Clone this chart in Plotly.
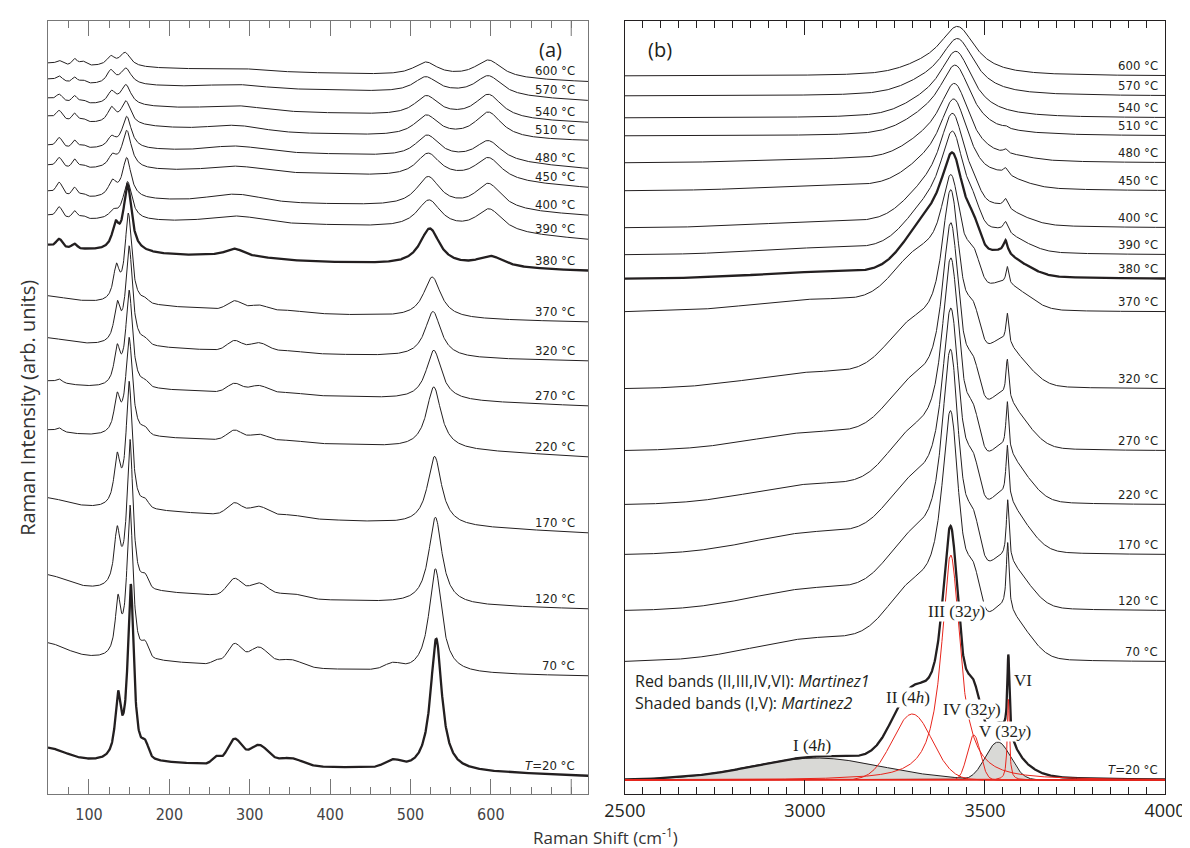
import numpy as np
import plotly.graph_objects as go

# ---------------- data ----------------
temps = ["600 °C", "570 °C", "540 °C", "510 °C", "480 °C", "450 °C", "400 °C", "390 °C", "380 °C",
         "370 °C", "320 °C", "270 °C", "220 °C", "170 °C", "120 °C", "70 °C", "<i>T</i>=20 °C"]
thick_idx = [8, 16]

# panel (a): 50-720 cm-1 ; baseline levels (px-like units above axis)
a_left = [730, 711, 692, 674, 646, 626, 597, 575, 547, 495, 452, 409, 360, 289, 208, 139, 34]
a_mid = [721, 704, 681, 660, 640, 620, 590, 569, 532, 480, 440, 398, 350, 274, 194, 125, 27]
a_right = [713, 694, 672, 654, 626, 607, 579, 555, 524, 473, 434, 389, 338, 262, 186, 119, 19]
a_edge = [2, 5, 5, 5, 4, 4, 7, 5, 3, 4, 5, 5, 5, 8, 12, 13, 13]
a_f63 = [3, 4, 5, 7, 8, 8, 10, 9, 7, 0, 0, 3, 3, 0, 0, 0, 0]
a_f82 = [6, 5, 6, 7, 7, 8, 8, 7, 4, 0, 0, 0, 0, 0, 0, 0, 0]
a_f92 = [4, 3, 3, 3, 3, 3, 3, 3, 0, 0, 0, 0, 0, 0, 0, 0, 0]
a_sh_pos = [127, 127, 128, 128, 128, 129, 129, 130, 133, 134, 135, 135, 135, 135, 135, 136, 136]
a_sh_amp = [9, 13, 12, 15, 10, 11, 15, 7, 22, 32, 36, 35, 35, 47, 54, 53, 59]
a_sh_wid = [6, 6, 6, 6, 6, 6, 6, 6, 5, 4.5, 4.5, 4.5, 4.5, 4.5, 4.5, 4, 4]
a_mn_pos = [145, 146, 146, 146, 147, 147, 147, 148, 148, 149, 150, 150, 150, 150, 151, 151, 152]
a_mn_amp = [14, 16, 20, 23, 32, 38, 40, 38, 66, 89, 98, 96, 97, 125, 148, 152, 175]
a_mn_wid = [8, 8, 7.5, 7, 7, 7, 6.5, 6.5, 6, 5, 5, 5, 5, 4.5, 4.5, 4.5, 4.5]
a_f170 = [0, 0, 0, 0, 0, 0, 0, 0, 0, 3, 4, 4, 5, 6, 10, 12, 12]
a_f258 = [0, 0, 0, 0, 0, 0, 0, 0, 0, 0, 0, 0, 0, 0, 0, 4, 7]
a_f280 = [0, 0, 0, 0, 0, 0, 0, 0, 5, 9, 10, 9, 10, 12, 17, 21, 25]
a_f310 = [0, 0, 0, 0, 0, 0, 0, 0, 0, 6, 9, 8, 7, 10, 14, 19, 20]
a_f350 = [0, 0, 0, 0, 0, 0, 0, 0, 0, 2, 2, 2, 2, 3, 5, 8, 8]
a_f478 = [0, 0, 0, 0, 0, 0, 0, 0, 0, 0, 0, 0, 0, 0, 0, 6, 7]
a_hump = [2, 3, 4, 5, 5, 5, 7, 6, 4, 0, 0, 0, 0, 0, 0, 0, 0]
a_p53_pos = [519, 519, 520, 520, 521, 522, 522, 523, 524, 527, 528, 529, 529, 530, 531, 531, 532]
a_p53_amp = [13.5, 16, 20, 21, 22.5, 24, 30, 28.5, 37, 41, 46, 50, 62, 69, 87, 104, 132]
a_p53_wid = [18, 18, 18, 18, 18, 18, 18, 18, 15, 13, 12, 11.5, 11, 10.5, 10, 9.5, 8.5]
a_p60_pos = [597, 597, 597, 597, 597, 597, 597, 598, 600, 600, 600, 600, 600, 600, 600, 600, 600]
a_p60_amp = [18, 20, 24, 26, 20.5, 23, 26, 23, 11, 0, 0, 0, 0, 0, 0, 0, 0]
a_ticks = [100, 200, 300, 400, 500, 600]

# panel (b): 2500-4000 cm-1
b_base = [717, 697, 675, 657, 630, 602, 565, 538, 514, 481, 404, 342, 288, 238, 182, 131, 13]
b_I = [0, 0, 0, 0, 3, 4, 5, 6, 6, 12, 16, 18, 20, 22, 22, 23, 22]
b_II_pos = [3340, 3340, 3340, 3340, 3340, 3340, 3340, 3340, 3340, 3315, 3305, 3305, 3305, 3305, 3305, 3305, 3298]
b_II_wid = [65, 65, 65, 65, 65, 65, 65, 65, 65, 70, 75, 75, 75, 75, 75, 75, 55]
b_II = [6, 8, 10, 12, 14, 16, 25, 32, 42, 45, 50, 52, 53, 54, 55, 56, 66]
b_III_pos = [3425, 3425, 3421, 3419, 3417, 3415, 3412, 3412, 3412, 3407, 3406, 3406, 3406, 3406, 3405, 3405, 3405]
b_III = [47, 54, 62, 65, 72, 83, 100, 105, 102, 116, 176, 204, 222, 221, 235, 224, 240]
b_III_wid = [60, 58, 56, 54, 52, 50, 46, 44, 42, 36, 33, 32, 32, 32, 31, 31, 31]
b_IV = [0, 0, 0, 0, 0, 2, 10, 16, 20, 28, 38, 40, 42, 43, 44, 44, 45]
b_V = [0, 0, 0, 0, 0, 6, 8, 10, 12, 13, 26, 31, 31, 33, 26, 27, 38]
b_VI_pos = [3557, 3557, 3557, 3557, 3557, 3557, 3557, 3557, 3557, 3562, 3562, 3562, 3562, 3562, 3563, 3563, 3565]
b_VI = [0, 0, 0, 2, 4, 6, 9, 10, 13, 17, 30, 39, 49, 53, 60, 67, 81]
b_VI_wid = [7, 7, 7, 7, 7, 7, 7, 7, 7, 4.5, 4.5, 4.5, 4.5, 4.5, 4.5, 4.5, 3.5]
b_tail = [0, 0, 0, 0, 2, 4, 6, 8, 10, 15, 22, 25, 26, 27, 27, 28, 10]
b_ticks = [2500, 3000, 3500, 4000]

# fitted component bands of the T=20 °C spectrum (I..VI)
fit_names = ["I", "II", "III", "IV", "V", "VI"]
fit_amp = [22, 66, 225, 45, 38, 81]
fit_pos = [3030, 3298, 3405, 3469, 3536, 3565]
fit_wid = [185, 55, 31, 18, 35, 3.5]
fit_shaded = [True, False, False, False, True, False]

band_labels = ["I (4<i>h</i>)", "II (4<i>h</i>)", "III (32<i>y</i>)", "IV (32<i>y</i>)", "V (32<i>y</i>)", "VI"]
band_label_x = [3019, 3287, 3420, 3464, 3555, 3605]
band_label_y = [48, 96, 182, 84, 62, 113]


# ---------------- helpers ----------------
def lor(x, c, a, w):
    return a / (1.0 + ((x - c) / w) ** 2)


def gau(x, c, a, s):
    return a * np.exp(-0.5 * ((x - c) / s) ** 2)


xa = np.linspace(49, 721, 1600)
xb = np.linspace(2500, 4000, 1800)


def spec_a(i, x):
    coef = np.polyfit([49, 420, 720], [a_left[i], a_mid[i], a_right[i]], 2)
    y = np.polyval(coef, x)
    y += gau(x, 45, a_edge[i], 25)
    y += gau(x, 63, a_f63[i], 3.5) + gau(x, 82, a_f82[i], 3) + gau(x, 92, a_f92[i], 4)
    y += lor(x, a_sh_pos[i], a_sh_amp[i], a_sh_wid[i])
    y += lor(x, a_mn_pos[i], a_mn_amp[i], a_mn_wid[i])
    y += gau(x, 170, a_f170[i], 4) + gau(x, 258, a_f258[i], 5)
    y += gau(x, 281, a_f280[i], 9) + gau(x, 311, a_f310[i], 12)
    y += gau(x, 350, a_f350[i], 15) + gau(x, 478, a_f478[i], 10)
    y += gau(x, 283, a_hump[i], 30)
    y += lor(x, a_p53_pos[i], a_p53_amp[i], a_p53_wid[i])
    y += lor(x, a_p60_pos[i], a_p60_amp[i], 20)
    return y


def spec_b(i, x):
    y = np.full_like(x, float(b_base[i]))
    y += gau(x, 3050, b_I[i], 190)
    y += gau(x, b_II_pos[i], b_II[i], b_II_wid[i])
    y += lor(x, b_III_pos[i], b_III[i], b_III_wid[i])
    y += gau(x, 3469, b_IV[i], 18)
    y += gau(x, 3536, b_V[i], 35)
    y += lor(x, b_VI_pos[i], b_VI[i], b_VI_wid[i])
    y += gau(x, 3590, b_tail[i], 45)
    return y


def fit_band(k, x):
    if fit_names[k] in ("III", "VI"):
        return lor(x, fit_pos[k], fit_amp[k], fit_wid[k])
    return gau(x, fit_pos[k], fit_amp[k], fit_wid[k])


fig = go.Figure()
LINE = "#231f20"
RED = "#e8251c"

# ---------------- panel (a) ----------------
for i in range(len(temps)):
    w = 2.3 if i in thick_idx else 1.0
    fig.add_trace(go.Scatter(x=xa, y=spec_a(i, xa), mode="lines", line=dict(color=LINE, width=w),
                             xaxis="x", yaxis="y", hoverinfo="skip"))

# ---------------- panel (b) ----------------
base20 = b_base[-1]
for k in range(len(fit_names)):
    if fit_shaded[k]:
        yy = base20 + fit_band(k, xb)
        fig.add_trace(go.Scatter(x=np.concatenate([xb, xb[::-1]]),
                                 y=np.concatenate([yy, np.full_like(xb, base20)]),
                                 fill="toself", fillcolor="#d9d9d6", mode="none",
                                 xaxis="x2", yaxis="y2", hoverinfo="skip"))
        fig.add_trace(go.Scatter(x=xb, y=yy, mode="lines", line=dict(color=LINE, width=1.0),
                                 xaxis="x2", yaxis="y2", hoverinfo="skip"))

for i in range(len(temps)):
    w = 2.3 if i in thick_idx else 1.0
    fig.add_trace(go.Scatter(x=xb, y=spec_b(i, xb), mode="lines", line=dict(color=LINE, width=w),
                             xaxis="x2", yaxis="y2", hoverinfo="skip"))

fig.add_trace(go.Scatter(x=xb, y=np.full_like(xb, float(base20)), mode="lines",
                         line=dict(color=RED, width=1.3), xaxis="x2", yaxis="y2", hoverinfo="skip"))
for k in range(len(fit_names)):
    if not fit_shaded[k]:
        fig.add_trace(go.Scatter(x=xb, y=base20 + fit_band(k, xb), mode="lines",
                                 line=dict(color=RED, width=1.0), xaxis="x2", yaxis="y2", hoverinfo="skip"))

# ---------------- annotations ----------------
ann = []
NARROW = "Liberation Sans Narrow, DejaVu Sans Condensed, Arial Narrow, sans-serif"
for i, t in enumerate(temps):
    ya = float(spec_a(i, np.array([707.0]))[0]) + 10
    ann.append(dict(x=707, y=ya, xref="x", yref="y", text=t, showarrow=False, xanchor="right",
                    yanchor="middle", font=dict(family=NARROW, size=13, color="#231f20")))
    yb = float(spec_b(i, np.array([3986.0]))[0]) + 10
    ann.append(dict(x=3986, y=yb, xref="x2", yref="y2", text=t, showarrow=False, xanchor="right",
                    yanchor="middle", font=dict(family=NARROW, size=13, color="#231f20")))

for t, x, y in zip(band_labels, band_label_x, band_label_y):
    ann.append(dict(x=x, y=y, xref="x2", yref="y2", text=t, showarrow=False, xanchor="center",
                    yanchor="middle", bgcolor="white", borderpad=0,
                    font=dict(family="Liberation Serif, Times New Roman, serif", size=17, color="#231f20")))

ann.append(dict(x=2522, y=112, xref="x2", yref="y2", text="Red bands (II,III,IV,VI): <i>Martinez1</i>",
                showarrow=False, xanchor="left", yanchor="middle",
                font=dict(family="Open Sans, sans-serif", size=16, color="#231f20")))
ann.append(dict(x=2522, y=90, xref="x2", yref="y2", text="Shaded bands (I,V): <i>Martinez2</i>",
                showarrow=False, xanchor="left", yanchor="middle",
                font=dict(family="Open Sans, sans-serif", size=16, color="#231f20")))
ann.append(dict(x=0.4497, y=0.9625, xref="paper", yref="paper", text="(a)", showarrow=False,
                xanchor="center", yanchor="middle",
                font=dict(family="Open Sans, sans-serif", size=20, color="#231f20")))
ann.append(dict(x=0.5477, y=0.9625, xref="paper", yref="paper", text="(b)", showarrow=False,
                xanchor="center", yanchor="middle",
                font=dict(family="Open Sans, sans-serif", size=20, color="#231f20")))
# x-axis title placed just above the bottom edge, below the tick labels
ann.append(dict(x=0.4987, y=-0.0737, xref="paper", yref="paper", text="Raman Shift (cm<sup>-1</sup>)",
                showarrow=False, font=dict(family="Open Sans, sans-serif", size=17, color="#333"),
                xanchor="center", yanchor="bottom"))
ann.append(dict(x=-0.018, y=0.4994, xref="paper", yref="paper", text="Raman Intensity (arb. units)",
                textangle=-90, showarrow=False, font=dict(family="Open Sans, sans-serif", size=20, color="#333"),
                xanchor="center", yanchor="middle"))

# long tick at 700 cm-1 (unlabelled) in panel (a), bottom and top
shapes = [dict(type="line", xref="x", yref="y", x0=700, x1=700, y0=1, y1=16, line=dict(color="#777", width=1)),
          dict(type="line", xref="x", yref="y", x0=700, x1=700, y0=759, y1=774, line=dict(color="#777", width=1))]

axis_common = dict(showgrid=False, zeroline=False, showline=True, mirror="allticks", ticks="inside")

fig.update_layout(
    width=1190, height=848,
    margin=dict(l=40, r=27, t=13, b=62),
    paper_bgcolor="white", plot_bgcolor="white", showlegend=False,
    annotations=ann, shapes=shapes,
    xaxis=dict(domain=[0, 0.48353], range=[49, 721], tickmode="array",
               tickvals=a_ticks, ticktext=[str(v) for v in a_ticks],
               ticklen=15, tickcolor="#777", linecolor="#777", linewidth=1.3,
               minor=dict(tickmode="linear", tick0=0, dtick=25, ticklen=7, ticks="inside", tickcolor="#777"),
               tickfont=dict(family=NARROW, size=16, color="#444"), ticklabelstandoff=6,
               **axis_common),
    yaxis=dict(domain=[0, 1], range=[1, 774], showticklabels=False, ticks="", showgrid=False,
               zeroline=False, showline=True, mirror=True, linecolor="#777", linewidth=1.3),
    xaxis2=dict(domain=[0.51647, 1], range=[2500, 4000], anchor="y2", tickmode="array",
                tickvals=b_ticks, ticktext=[str(v) for v in b_ticks],
                ticklen=14, tickcolor="#231f20", linecolor="#231f20", linewidth=1.3,
                minor=dict(tickmode="linear", tick0=0, dtick=50, ticklen=7, ticks="inside", tickcolor="#231f20"),
                tickfont=dict(family="Open Sans, sans-serif", size=18, color="#231f20"), ticklabelstandoff=0,
                **axis_common),
    yaxis2=dict(domain=[0, 1], range=[-1, 772], anchor="x2", showticklabels=False, ticks="",
                showgrid=False, zeroline=False, showline=True, mirror=True, linecolor="#231f20", linewidth=1.3),
)

fig.write_html("out.html")
